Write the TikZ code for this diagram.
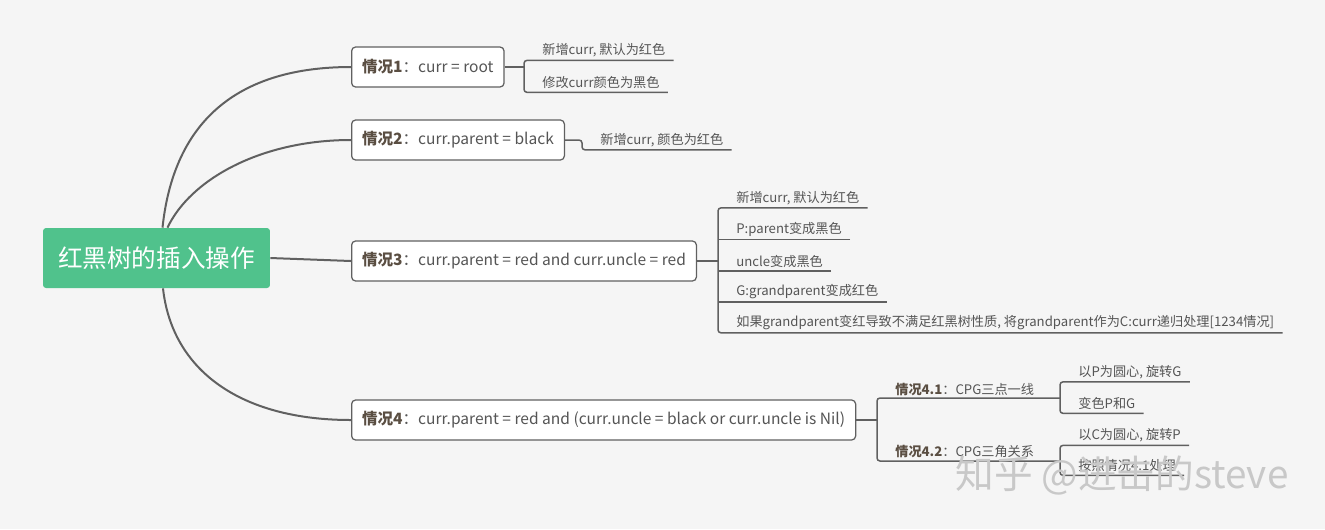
\documentclass[tikz,border=0pt]{standalone}
\usepackage{fontspec}
\setmainfont{Noto Sans CJK SC}
\definecolor{bgc}{HTML}{F5F5F5}
\definecolor{rootc}{HTML}{50C28C}
\definecolor{linec}{HTML}{606060}
\definecolor{txtc}{HTML}{555555}
\definecolor{boldc}{HTML}{5A4E42}
\definecolor{wmc}{HTML}{C8C8C8}
\newcommand{\casetag}[1]{\textbf{\color{boldc}#1}}
\tikzset{
  rootbox/.style={fill=rootc, text=white, rounded corners=0.6mm,
    minimum width=45.4mm, minimum height=12mm,
    font=\fontsize{14pt}{16pt}\selectfont},
  casebox/.style={draw=linec, fill=white, rounded corners=0.8mm,
    line width=0.25mm, minimum height=8mm, inner xsep=2.1mm,
    text=txtc, anchor=west, font=\fontsize{8.85pt}{10pt}\selectfont},
  leaf/.style={anchor=west, inner xsep=1.6mm, inner ysep=0pt,
    minimum height=3.8mm, text=txtc,
    font=\fontsize{7.5pt}{9pt}\selectfont},
  link/.style={draw=linec, line width=0.4mm},
  twig/.style={draw=linec, line width=0.3mm},
  wmark/.style={text=wmc, font=\fontsize{22pt}{24pt}\selectfont},
}
\begin{document}
\begin{tikzpicture}[x=0.02cm, y=-0.02cm]
  \fill[bgc] (0,0) rectangle (1325,529);
  \useasboundingbox (0,0) rectangle (1325,529);

  \node[rootbox] (root) at (156.5,258) {红黑树的插入操作};

  \node[casebox] (c1) at (351,67) {\casetag{情况1}：curr = root};
  \node[casebox] (c2) at (351,140) {\casetag{情况2}：curr.parent = black};
  \node[casebox] (c3) at (351,261) {\casetag{情况3}：curr.parent = red and curr.uncle = red};
  \node[casebox] (c4) at (351,420) {\casetag{情况4}：curr.parent = red and (curr.uncle = black or curr.uncle is Nil)};

  % case 1
  \coordinate (s1) at (524,67);
  \node[leaf] (l11) at (534,50.5) {新增curr, 默认为红色};
  \node[leaf] (l12) at (534,82.5) {修改curr颜色为黑色};
  % case 2
  \coordinate (s2) at (582,140);
  \node[leaf] (l21) at (592,140) {新增curr, 颜色为红色};
  % case 3
  \coordinate (s3) at (718,261);
  \node[leaf] (l31) at (728,198) {新增curr, 默认为红色};
  \node[leaf] (l32) at (728,229.5) {P:parent变成黑色};
  \node[leaf] (l33) at (728,261) {uncle变成黑色};
  \node[leaf] (l34) at (728,292) {G:grandparent变成红色};
  \node[leaf] (l35) at (728,323) {如果grandparent变红导致不满足红黑树性质, 将grandparent作为C:curr递归处理[1234情况]};
  % case 4
  \coordinate (s4) at (877,420);
  \node[leaf] (l41) at (887,389) {\casetag{情况4.1}：CPG三点一线};
  \node[leaf] (l42) at (887,451) {\casetag{情况4.2}：CPG三角关系};
  \coordinate (s41) at (1060,398);
  \coordinate (s42) at (1060,461);
  \node[leaf] (l411) at (1070,372) {以P为圆心, 旋转G};
  \node[leaf] (l412) at (1070,403.5) {变色P和G};
  \node[leaf] (l421) at (1070,435.5) {以C为圆心, 旋转P};
  \node[leaf] (l422) at (1070,465.5) {按照情况4.1处理};

  % main branches
  \draw[link] ([xshift=1.2mm]root.north) .. controls (175,110) and (250,67) .. (c1.west);
  \draw[link] ([xshift=2.2mm]root.north) .. controls (190,180) and (260,140) .. (c2.west);
  \draw[link] (root.east) -- (c3.west);
  \draw[link] ([xshift=1.3mm]root.south) .. controls (172,370) and (240,420) .. (c4.west);

  % small branches
  \begin{scope}[twig]
    \draw (c1.east) -- (s1);
    \draw[rounded corners=0.6mm] (l11.south east) -| (s1) |- (l12.south east);
    \draw[rounded corners=0.6mm] (c2.east) -- (s2) |- (l21.south east);
    \draw (c3.east) -- (s3);
    \draw[rounded corners=0.6mm] (l31.south east) -| (s3) |- (l35.south east);
    \draw (l32.south east) -- (l32.south east -| s3);
    \draw (l33.south east) -- (l33.south east -| s3);
    \draw (l34.south east) -- (l34.south east -| s3);
    \draw (c4.east) -- (s4);
    \draw[rounded corners=0.6mm] (s41) -| (s4) |- (s42);
    \draw[rounded corners=0.6mm] (l411.south east) -| (s41) |- (l412.south east);
    \draw[rounded corners=0.6mm] (l421.south east) -| (s42) |- (l422.south east);
  \end{scope}

  \node[wmark] (wm) at (1122,476) {知乎 @进击的steve};
\end{tikzpicture}
\end{document}
